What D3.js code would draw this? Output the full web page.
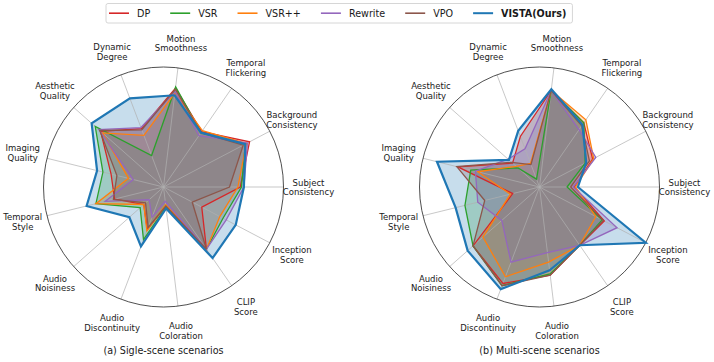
<!DOCTYPE html>
<html>
<head>
<meta charset="utf-8">
<script src="https://cdn.jsdelivr.net/npm/d3@7"></script>
<style>
  body { margin: 0; background: #fff; }
  svg { font-family: 'DejaVu Sans', sans-serif; }
</style>
</head>
<body>
<div id="chart"></div>
<script>
// axes go counter-clockwise starting at 3 o'clock
const categories = [
  'Subject\nConsistency', 'Background\nConsistency', 'Temporal\nFlickering', 'Motion\nSmoothness',
  'Dynamic\nDegree', 'Aesthetic\nQuality', 'Imaging\nQuality', 'Temporal\nStyle',
  'Audio\nNoisiness', 'Audio\nDiscontinuity', 'Audio\nColoration', 'CLIP\nScore', 'Inception\nScore'
]
const seriesNames = ['DP', 'VSR', 'VSR++', 'Rewrite', 'VPO', 'VISTA(Ours)']
const seriesColors = ['#d62728', '#2ca02c', '#ff7f0e', '#9467bd', '#8c564b', '#1f77b4']

// (a) single-scene, normalised radius
const singleDP      = [0.64, 0.81, 0.56, 0.83, 0.52, 0.70, 0.45, 0.42, 0.22, 0.38, 0.16, 0.63, 0.36]
const singleVSR     = [0.65, 0.77, 0.55, 0.84, 0.28, 0.76, 0.52, 0.58, 0.26, 0.47, 0.17, 0.63, 0.56]
const singleVSRpp   = [0.62, 0.78, 0.57, 0.79, 0.46, 0.68, 0.30, 0.58, 0.22, 0.39, 0.15, 0.63, 0.53]
const singleRewrite = [0.67, 0.79, 0.52, 0.80, 0.53, 0.72, 0.26, 0.50, 0.16, 0.27, 0.12, 0.63, 0.59]
const singleVPO     = [0.55, 0.75, 0.55, 0.82, 0.51, 0.71, 0.40, 0.43, 0.20, 0.36, 0.16, 0.63, 0.27]
const singleVISTA   = [0.67, 0.77, 0.55, 0.77, 0.79, 0.80, 0.57, 0.66, 0.38, 0.53, 0.18, 0.72, 0.68]

// (b) multi-scene
const multiDP      = [0.29, 0.50, 0.65, 0.81, 0.45, 0.30, 0.70, 0.23, 0.74, 0.86, 0.74, 0.59, 0.61]
const multiVSR     = [0.23, 0.43, 0.65, 0.81, 0.07, 0.24, 0.59, 0.64, 0.74, 0.88, 0.73, 0.59, 0.59]
const multiVSRpp   = [0.30, 0.51, 0.68, 0.81, 0.21, 0.26, 0.53, 0.25, 0.63, 0.80, 0.63, 0.59, 0.53]
const multiRewrite = [0.28, 0.53, 0.58, 0.81, 0.34, 0.35, 0.55, 0.53, 0.42, 0.67, 0.55, 0.59, 0.73]
const multiVPO     = [0.26, 0.47, 0.62, 0.81, 0.20, 0.31, 0.71, 0.47, 0.74, 0.88, 0.74, 0.59, 0.60]
const multiVISTA   = [0.32, 0.44, 0.63, 0.82, 0.50, 0.34, 0.88, 0.72, 0.80, 0.91, 0.70, 0.59, 1.00]

const panelTitles = ['(a) Sigle-scene scenarios', '(b) Multi-scene scenarios']

const singleScene = [singleDP, singleVSR, singleVSRpp, singleRewrite, singleVPO, singleVISTA]
const multiScene = [multiDP, multiVSR, multiVSRpp, multiRewrite, multiVPO, multiVISTA]

const width = 714
const height = 362
const radius = 120

const svg = d3.select('#chart')
  .append('svg')
  .attr('width', width)
  .attr('height', height)

svg.append('rect').attr('width', width).attr('height', height).attr('fill', '#fff')

const rScale = d3.scaleLinear().domain([0, 1]).range([0, radius])
// d3 angles are clockwise from 12 o'clock
const angleScale = d3.scaleLinear()
  .domain([0, categories.length])
  .range([Math.PI / 2, Math.PI / 2 - 2 * Math.PI])

const radarLine = d3.lineRadial()
  .angle((d, i) => angleScale(i))
  .radius(d => rScale(d))
  .curve(d3.curveLinearClosed)

function drawRadar(cx, cy, data, title) {
  const g = svg.append('g').attr('transform', `translate(${cx}, ${cy})`)

  data.forEach((values, i) => {
    g.append('path')
      .attr('d', radarLine(values))
      .attr('fill', seriesColors[i])
      .attr('fill-opacity', 0.25)
      .attr('stroke', 'none')
  })

  categories.forEach((c, k) => {
    const a = angleScale(k)
    g.append('line')
      .attr('x1', 0).attr('y1', 0)
      .attr('x2', radius * Math.sin(a))
      .attr('y2', -radius * Math.cos(a))
      .attr('stroke', '#b0b0b0')
      .attr('stroke-width', 0.7)
  })

  g.append('circle')
    .attr('r', radius)
    .attr('fill', 'none')
    .attr('stroke', '#222')
    .attr('stroke-width', 0.8)

  data.forEach((values, i) => {
    const last = i === data.length - 1
    g.append('path')
      .attr('d', radarLine(values))
      .attr('fill', 'none')
      .attr('stroke', seriesColors[i])
      .attr('stroke-width', last ? 2.2 : 1.3)
  })

  const labelR = 145
  categories.forEach((c, k) => {
    const a = angleScale(k)
    const t = g.append('text')
      .attr('x', labelR * Math.sin(a))
      .attr('y', -labelR * Math.cos(a))
      .attr('text-anchor', 'middle')
      .attr('font-size', 8.5)
      .attr('fill', '#1a1a1a')
    c.split('\n').forEach((l, j) => {
      t.append('tspan')
        .attr('x', labelR * Math.sin(a))
        .attr('dy', j === 0 ? -1.5 : 9.8)
        .text(l)
    })
  })

  g.append('text')
    .attr('x', 0)
    .attr('y', 354 - cy)
    .attr('text-anchor', 'middle')
    .attr('font-size', 9.6)
    .attr('fill', '#1a1a1a')
    .text(title)
}

drawRadar(163.5, 187, singleScene, panelTitles[0])
drawRadar(539.5, 187, multiScene, panelTitles[1])

// legend
const legend = svg.append('g')
const legendBox = legend.append('rect')
  .attr('y', 3.5)
  .attr('height', 19.5)
  .attr('rx', 2)
  .attr('fill', '#fff')
  .attr('stroke', '#ccc')
  .attr('stroke-width', 0.8)

let lx = 109
let textEnd = lx
seriesNames.forEach((name, i) => {
  const last = i === seriesNames.length - 1
  legend.append('line')
    .attr('x1', lx).attr('x2', lx + 20)
    .attr('y1', 13.2).attr('y2', 13.2)
    .attr('stroke', seriesColors[i])
    .attr('stroke-width', last ? 2 : 1.6)
  const t = legend.append('text')
    .attr('x', lx + 28)
    .attr('y', 16.6)
    .attr('font-size', 9.6)
    .attr('font-weight', last ? 'bold' : 'normal')
    .attr('fill', '#1a1a1a')
    .text(name)
  textEnd = lx + 28 + t.node().getComputedTextLength()
  lx = textEnd + 20
})
legendBox.attr('x', 106).attr('width', textEnd + 6 - 106)
</script>
</body>
</html>
